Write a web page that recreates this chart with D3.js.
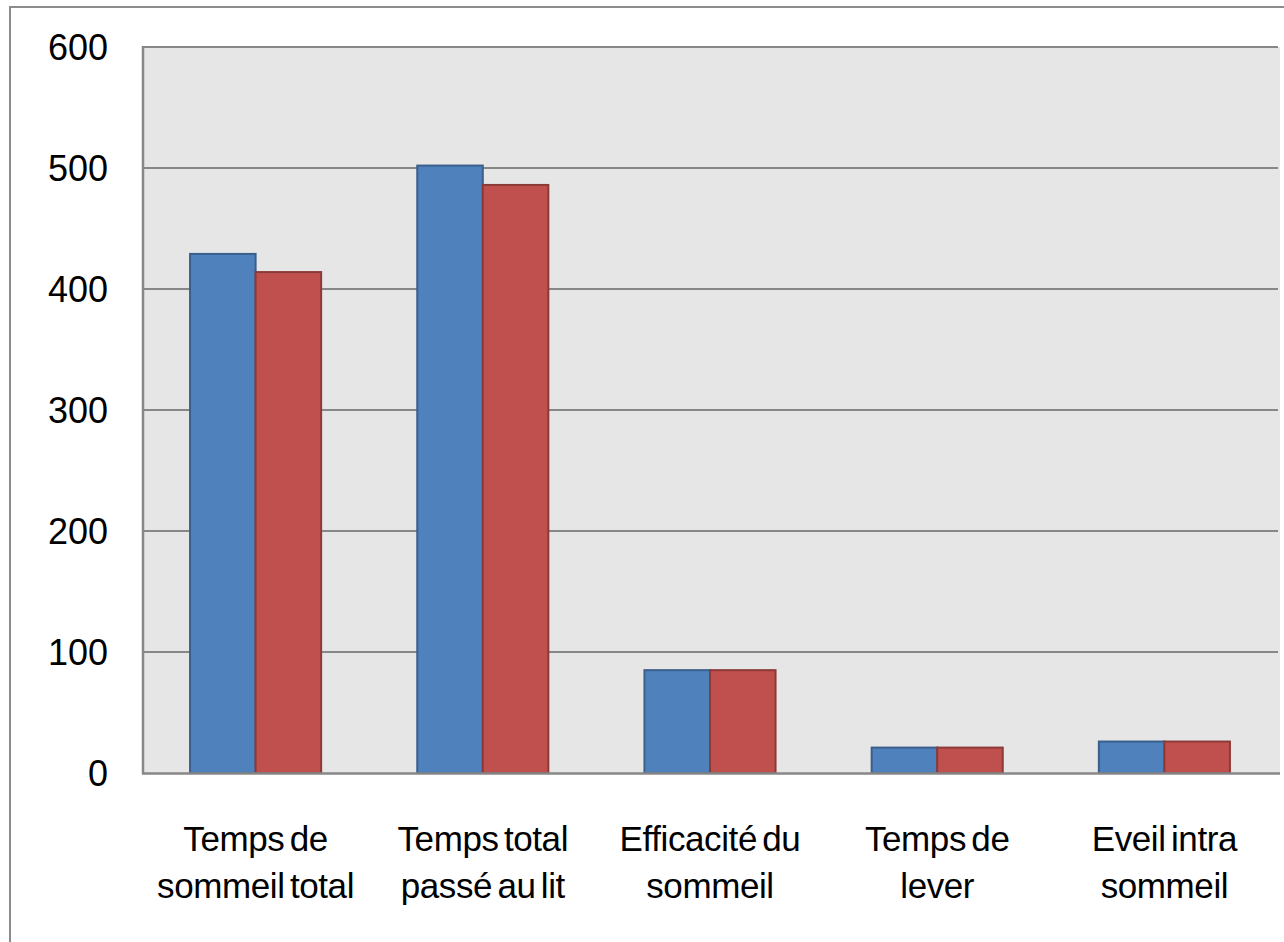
<!DOCTYPE html>
<html>
<head>
<meta charset="utf-8">
<script src="https://cdn.jsdelivr.net/npm/d3@7/dist/d3.min.js"></script>
<style>
  html, body { margin: 0; padding: 0; background: #fff; }
  svg { display: block; }
  text { font-family: "Liberation Sans", Arial, sans-serif; fill: #000; }
</style>
</head>
<body>
<svg id="chart" width="1284" height="942"></svg>
<script>
// Sleep parameters, two series per category
const categories = [
  ["Temps de", "sommeil total"],
  ["Temps total", "passé au lit"],
  ["Efficacité du", "sommeil"],
  ["Temps de", "lever"],
  ["Eveil intra", "sommeil"]
];
const series1 = [429, 502, 85, 21, 26];
const series2 = [414, 486, 85, 21, 26];
const yTicks = [0, 100, 200, 300, 400, 500, 600];

const svg = d3.select("#chart");
const W = 1284, H = 942;
const plot = { left: 144, top: 47, right: 1280, bottom: 773 };

// Outer chart frame (runs past the right and bottom edges)
svg.append("rect")
  .attr("x", 10).attr("y", 7)
  .attr("width", W + 20).attr("height", H + 20)
  .attr("fill", "#fff").attr("stroke", "#8c8c8c").attr("stroke-width", 2);

const x = d3.scaleBand()
  .domain(d3.range(categories.length))
  .range([plot.left - 2, plot.right - 2])
  .paddingInner(0.423).paddingOuter(0.2115);

const y = d3.scaleLinear().domain([0, 600]).range([plot.bottom, plot.top]);

// Plot background
svg.append("rect")
  .attr("x", plot.left).attr("y", plot.top)
  .attr("width", plot.right - plot.left).attr("height", plot.bottom - plot.top)
  .attr("fill", "#e6e6e6");

// Horizontal gridlines
svg.append("g").selectAll("line")
  .data(yTicks.filter(d => d > 0))
  .join("line")
  .attr("x1", plot.left).attr("x2", plot.right - 2)
  .attr("y1", d => y(d)).attr("y2", d => y(d))
  .attr("stroke", "#878787").attr("stroke-width", 2);

// Bars
const sub = d3.scaleBand().domain([0, 1]).range([0, x.bandwidth()]);
const seriesDefs = [
  { values: series1, fill: "#4f81bd", stroke: "#3a5f8c" },
  { values: series2, fill: "#c0504d", stroke: "#8c3a38" }
];
seriesDefs.forEach((s, si) => {
  svg.append("g").selectAll("rect")
    .data(s.values)
    .join("rect")
    .attr("x", (d, i) => x(i) + sub(si))
    .attr("y", d => y(d))
    .attr("width", sub.bandwidth())
    .attr("height", d => y(0) - y(d))
    .attr("fill", s.fill)
    .attr("stroke", s.stroke)
    .attr("stroke-width", 2);
});

// Axis lines
svg.append("line")
  .attr("x1", plot.left - 1).attr("x2", plot.left - 1)
  .attr("y1", plot.top - 1).attr("y2", plot.bottom + 1)
  .attr("stroke", "#878787").attr("stroke-width", 2.5);
svg.append("line")
  .attr("x1", plot.left - 1).attr("x2", plot.right - 2)
  .attr("y1", plot.top).attr("y2", plot.top)
  .attr("stroke", "#878787").attr("stroke-width", 2);
svg.append("line")
  .attr("x1", plot.left - 2).attr("x2", plot.right)
  .attr("y1", plot.bottom + 0.5).attr("y2", plot.bottom + 0.5)
  .attr("stroke", "#878787").attr("stroke-width", 2.5);

// Y tick labels
svg.append("g").selectAll("text")
  .data(yTicks)
  .join("text")
  .attr("x", 108)
  .attr("y", d => y(d) + 3)
  .attr("text-anchor", "end")
  .attr("dominant-baseline", "middle")
  .style("font-size", "36px")
  .text(d => d);

// Category labels (two lines each)
const labels = svg.append("g").selectAll("text")
  .data(categories)
  .join("text")
  .attr("text-anchor", "middle")
  .style("font-size", "35px")
  .style("word-spacing", "-4px")
  .style("letter-spacing", "-0.4px");
labels.each(function(lines, i) {
  const t = d3.select(this);
  lines.forEach((ln, k) => {
    t.append("tspan")
      .attr("x", x(i) + x.bandwidth() / 2)
      .attr("y", 851 + k * 47)
      .text(ln);
  });
});
</script>
</body>
</html>
